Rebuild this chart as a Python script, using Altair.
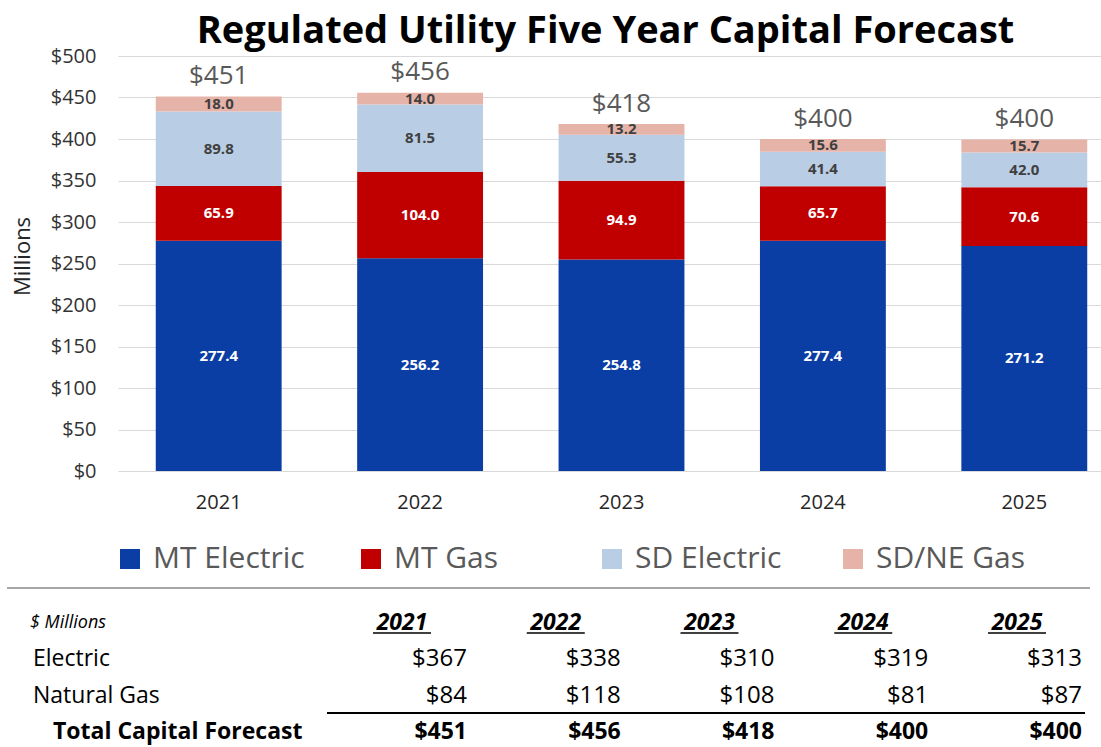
import altair as alt
import pandas as pd

FONT = "Open Sans"

years = ["2021", "2022", "2023", "2024", "2025"]
series = ["MT Electric", "MT Gas", "SD Electric", "SD/NE Gas"]
mt_electric = [277.4, 256.2, 254.8, 277.4, 271.2]
mt_gas = [65.9, 104.0, 94.9, 65.7, 70.6]
sd_electric = [89.8, 81.5, 55.3, 41.4, 42.0]
sdne_gas = [18.0, 14.0, 13.2, 15.6, 15.7]
bar_totals = [451, 456, 418, 400, 400]

row_names = ["$ Millions", "Electric", "Natural Gas", "Total Capital Forecast"]
electric = [367, 338, 310, 319, 313]
natural_gas = [84, 118, 108, 81, 87]
total_forecast = [451, 456, 418, 400, 400]

colors = ["#0a3ea4", "#c00000", "#b9cde5", "#e6b3a8"]
y_ticks = [0, 50, 100, 150, 200, 250, 300, 350, 400, 450, 500]

# ---- data tables ----
seg_values = [mt_electric, mt_gas, sd_electric, sdne_gas]
bars = pd.DataFrame(
    [
        {"Year": y, "Series": s, "Value": vals[i], "order": k}
        for k, (s, vals) in enumerate(zip(series, seg_values))
        for i, y in enumerate(years)
    ]
)
tot = pd.DataFrame({"Year": years, "Total": bar_totals})

tbl = pd.DataFrame(
    [
        {"Year": y, "Row": r, "Value": vals[i]}
        for r, vals in zip(row_names[1:], [electric, natural_gas, total_forecast])
        for i, y in enumerate(years)
    ]
)
hdr = pd.DataFrame({"Year": years, "Row": [row_names[0]] * len(years)})
labels = pd.DataFrame({"Row": row_names})

# ---- scales ----
x_bar_scale = alt.Scale(domain=years, range=[0, 1007], paddingInner=0.375, paddingOuter=0.1875)
y_bar_scale = alt.Scale(domain=[0, 500], nice=False, zero=True)
x_tbl_scale = alt.Scale(type="point", domain=years, range=[284, 899], padding=0)
y_tbl_scale = alt.Scale(type="point", domain=row_names, range=[567, 676], padding=0)

bar_layer = (
    alt.Chart(bars)
    .mark_bar()
    .encode(
        x=alt.X(
            "Year:N",
            scale=x_bar_scale,
            axis=alt.Axis(
                title=None,
                labelAngle=0,
                labelFont=FONT,
                labelFontSize=20,
                labelColor="#262626",
                labelPadding=21,
                domain=False,
                ticks=False,
                grid=False,
            ),
        ),
        y=alt.Y(
            "Value:Q",
            stack="zero",
            scale=y_bar_scale,
            axis=alt.Axis(
                values=y_ticks,
                format="$,.0f",
                title="Millions",
                titleFont=FONT,
                titleFontSize=22,
                titleFontWeight="normal",
                titleColor="#262626",
                titleX=-96,
                titleY=200,
                titleAngle=-90,
                titleAlign="center",
                titleBaseline="middle",
                labelFont=FONT,
                labelFontSize=20,
                labelColor="#333333",
                labelPadding=22,
                domain=False,
                ticks=False,
                grid=True,
                gridColor="#d9d9d9",
                gridWidth=1.2,
            ),
        ),
        color=alt.Color(
            "Series:N",
            scale=alt.Scale(domain=series, range=colors),
            legend=alt.Legend(
                title=None,
                orient="none",
                legendX=-3,
                legendY=488,
                direction="horizontal",
                columns=4,
                gridAlign="all",
                symbolType="square",
                symbolSize=400,
                symbolStrokeWidth=0,
                symbolOpacity=1,
                labelFont=FONT,
                labelFontSize=30,
                labelColor="#595959",
                labelOffset=8,
                labelLimit=300,
                columnPadding=51,
                padding=0,
            ),
        ),
        order=alt.Order("order:Q", sort="ascending"),
    )
)

seg_labels = (
    alt.Chart(bars)
    .transform_stack(
        stack="Value",
        groupby=["Year"],
        as_=["y0", "y1"],
        sort=[alt.SortField("order", order="ascending")],
    )
    .transform_calculate(mid="(datum.y0 + datum.y1) / 2")
    .mark_text(font=FONT, fontWeight="bold", fontSize=15, baseline="middle")
    .encode(
        x=alt.X("Year:N", scale=x_bar_scale, axis=None),
        y=alt.Y("mid:Q", scale=y_bar_scale, axis=None),
        text=alt.Text("Value:Q", format=".1f"),
        color=alt.condition(
            "datum.Series == 'MT Electric' || datum.Series == 'MT Gas'",
            alt.value("white"),
            alt.value("#404040"),
        ),
    )
)

tot_labels = (
    alt.Chart(tot)
    .mark_text(font=FONT, fontSize=26, color="#595959", baseline="alphabetic", dy=-12.5)
    .encode(
        x=alt.X("Year:N", scale=x_bar_scale, axis=None),
        y=alt.Y("Total:Q", scale=y_bar_scale, axis=None),
        text=alt.Text("Total:Q", format="$,.0f"),
    )
)

separator = alt.Chart(tot).mark_rule(color="#a6a6a6", strokeWidth=2).encode(
    x=alt.value(-111), x2=alt.value(972), y=alt.value(532)
)
total_line = alt.Chart(tot).mark_rule(color="black", strokeWidth=2).encode(
    x=alt.value(209), x2=alt.value(967), y=alt.value(657)
)

hdr_text = (
    alt.Chart(hdr)
    .mark_text(font=FONT, fontSize=23, fontWeight="bold", fontStyle="italic", color="black", baseline="middle")
    .encode(
        x=alt.X("Year:N", scale=x_tbl_scale, axis=None),
        y=alt.Y("Row:N", scale=y_tbl_scale, axis=None),
        text="Year:N",
    )
)
hdr_underline = (
    alt.Chart(hdr)
    .mark_rule(color="black", strokeWidth=1.5, xOffset=-29, x2Offset=29, yOffset=10)
    .encode(
        x=alt.X("Year:N", scale=x_tbl_scale, axis=None),
        x2="Year:N",
        y=alt.Y("Row:N", scale=y_tbl_scale, axis=None),
    )
)

val_text = (
    alt.Chart(tbl)
    .transform_filter(alt.datum.Row != row_names[3])
    .mark_text(font=FONT, fontSize=24, color="black", align="right", baseline="middle", dx=65)
    .encode(
        x=alt.X("Year:N", scale=x_tbl_scale, axis=None),
        y=alt.Y("Row:N", scale=y_tbl_scale, axis=None),
        text=alt.Text("Value:Q", format="$,.0f"),
    )
)
val_total = (
    alt.Chart(tbl)
    .transform_filter(alt.datum.Row == row_names[3])
    .mark_text(font=FONT, fontSize=23, fontWeight="bold", color="black", align="right", baseline="middle", dx=65)
    .encode(
        x=alt.X("Year:N", scale=x_tbl_scale, axis=None),
        y=alt.Y("Row:N", scale=y_tbl_scale, axis=None),
        text=alt.Text("Value:Q", format="$,.0f"),
    )
)

lbl_units = (
    alt.Chart(labels)
    .transform_filter(alt.datum.Row == row_names[0])
    .mark_text(font=FONT, fontSize=18, fontStyle="italic", color="black", align="left", baseline="middle")
    .encode(x=alt.value(-88), y=alt.Y("Row:N", scale=y_tbl_scale, axis=None), text="Row:N")
)
lbl_rows = (
    alt.Chart(labels)
    .transform_filter((alt.datum.Row == row_names[1]) | (alt.datum.Row == row_names[2]))
    .mark_text(font=FONT, fontSize=23, color="black", align="left", baseline="middle")
    .encode(x=alt.value(-85), y=alt.Y("Row:N", scale=y_tbl_scale, axis=None), text="Row:N")
)
lbl_total = (
    alt.Chart(labels)
    .transform_filter(alt.datum.Row == row_names[3])
    .mark_text(font=FONT, fontSize=23, fontWeight="bold", color="black", align="left", baseline="middle")
    .encode(x=alt.value(-65), y=alt.Y("Row:N", scale=y_tbl_scale, axis=None), text="Row:N")
)

chart = (
    alt.layer(
        bar_layer,
        seg_labels,
        tot_labels,
        separator,
        total_line,
        hdr_text,
        hdr_underline,
        val_text,
        val_total,
        lbl_units,
        lbl_rows,
        lbl_total,
    )
    .resolve_scale(x="independent", y="independent")
    .properties(
        width=983,
        height=415,
        padding={"left": 118, "top": 56, "right": 0, "bottom": 276},
        autosize=alt.AutoSizeParams(type="none"),
        title=alt.TitleParams(
            "Regulated Utility Five Year Capital Forecast",
            font=FONT,
            fontSize=38,
            fontWeight="bold",
            color="black",
            anchor="middle",
            frame="group",
            baseline="alphabetic",
            offset=4,
            dx=-4,
            dy=39,
        ),
    )
    .configure_view(stroke=None)
)

chart.save("out.html", embed_options={"renderer": "svg", "actions": False})
